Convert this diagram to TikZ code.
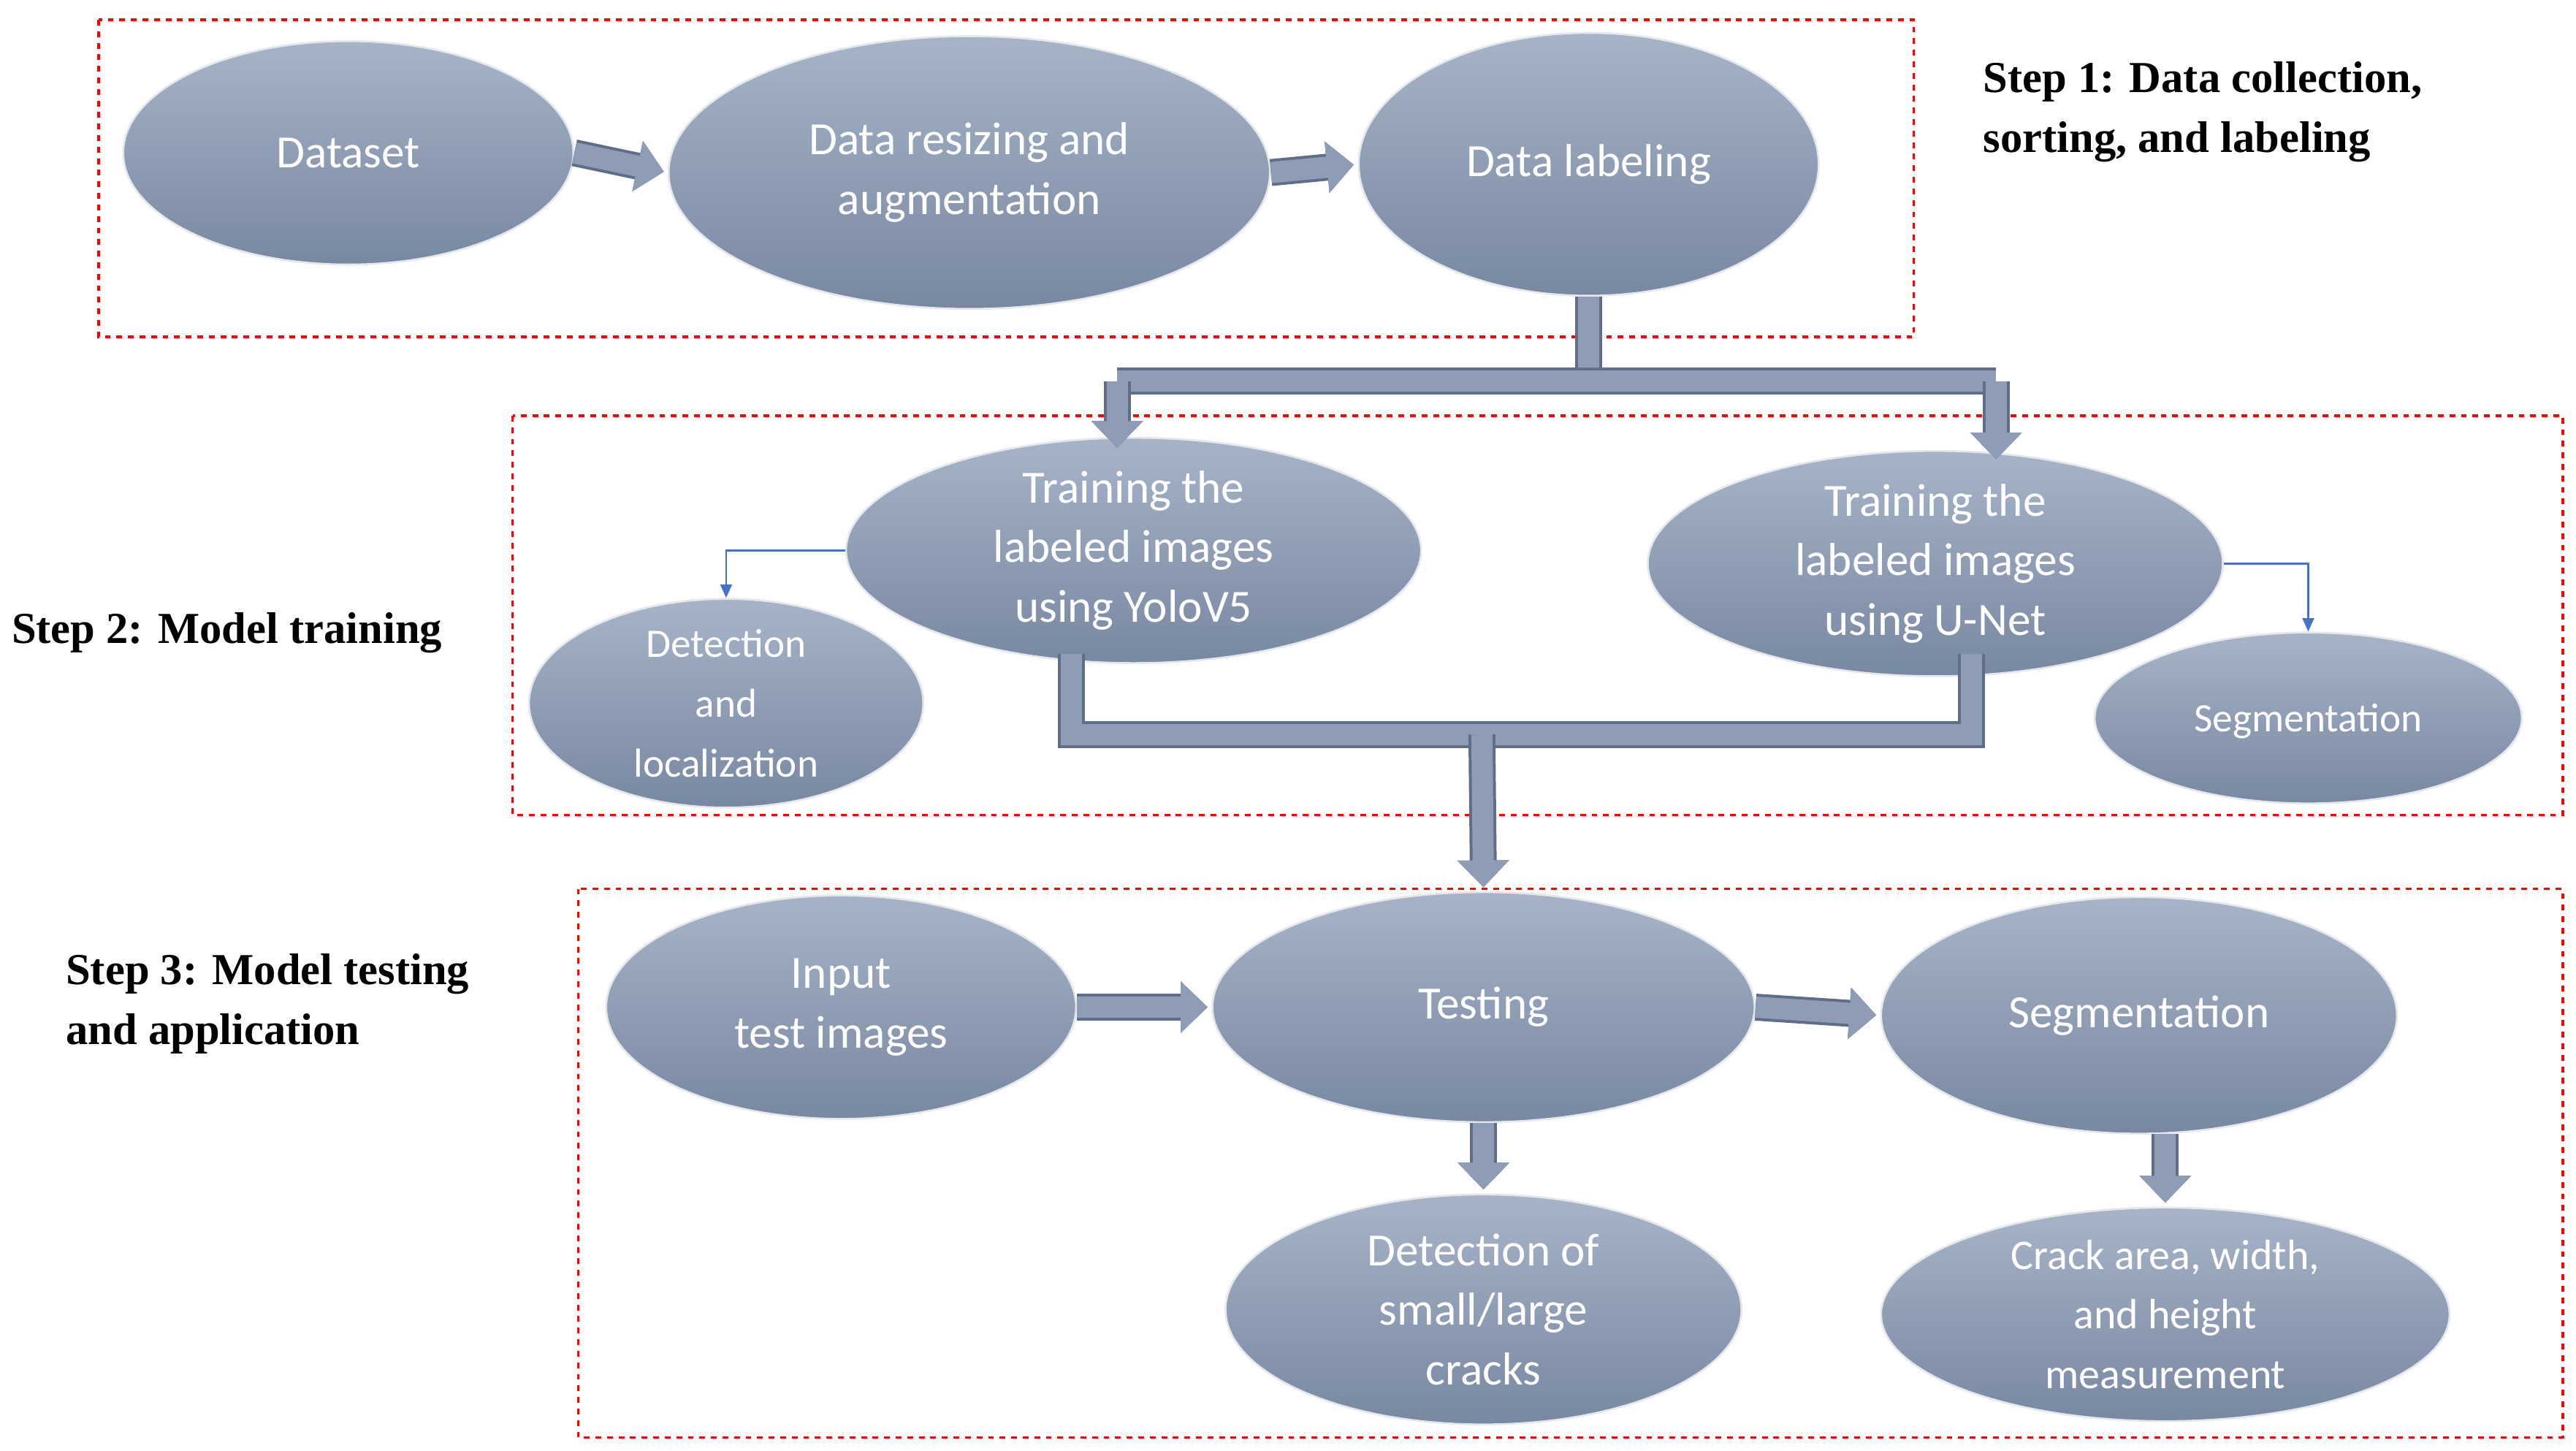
\documentclass[tikz,border=0pt]{standalone}
\usepackage{fontspec}
\setmainfont{Carlito}
\newfontfamily\stepfont{Liberation Serif}
\usetikzlibrary{shapes.geometric,arrows.meta}
\definecolor{elltop}{HTML}{A7B4C8}
\definecolor{ellbot}{HTML}{7888A1}
\definecolor{arrfill}{HTML}{8E9DB5}
\definecolor{arredge}{HTML}{5E6E88}
\definecolor{thinblue}{HTML}{4472C4}
\begin{document}
\begin{tikzpicture}[x=0.03cm,y=-0.03cm,
  ell/.style={ellipse,inner sep=0pt,top color=elltop,bottom color=ellbot,draw=white!80!ellbot,line width=1pt,
    text=white,align=center,font=\fontsize{24}{31}\selectfont},
  box/.style={draw=red,dashed,line width=1.2pt},
  steplbl/.style={anchor=west,align=left,font=\stepfont\bfseries\fontsize{23}{31}\selectfont},
  blk/.style={line width=11pt,draw=arrfill,preaction={draw=arredge,line width=14pt}},
  blka/.style={blk,-{Triangle[width=26pt,length=14pt]},shorten >=2pt},
  thin/.style={draw=thinblue,line width=1pt,-{Triangle[width=6pt,length=7pt]}}]
\useasboundingbox (0,0) rectangle (1568,883);
\fill[white] (0,0) rectangle (1568,883);
% boxes
\draw[box] (60,12) rectangle (1165,205);
\draw[box] (312,253) rectangle (1560,496);
\draw[box] (352,541) rectangle (1560,875);
% step labels
\node[steplbl] (s1) at (1203,68) {Step 1: Data collection,\\sorting, and labeling};
\node[steplbl] (s2) at (3,385) {Step 2: Model training};
\node[steplbl] (s3) at (36,611) {Step 3: Model testing\\and application};
% ellipses
\node[ell,minimum width=8.22cm,minimum height=4.08cm] (ds) at (212,93) {Dataset};
\node[ell,minimum width=10.98cm,minimum height=4.98cm] (dr) at (590,105) {Data resizing and\\augmentation};
\node[ell,minimum width=8.4cm,minimum height=4.8cm] (dl) at (967,100) {Data labeling};
\node[ell,minimum width=10.5cm,minimum height=3.6cm] (ty) at (690,335) {Training the\\labeled images\\using YoloV5};
\node[ell,minimum width=7.2cm,minimum height=3.6cm] (dd) at (442,428) {\fontsize{21}{29}\selectfont Detection\\\fontsize{21}{29}\selectfont and\\\fontsize{21}{29}\selectfont localization};
\node[ell,minimum width=10.5cm,minimum height=3.42cm] (tu) at (1178,343) {Training the\\labeled images\\using U-Net};
\node[ell,minimum width=7.8cm,minimum height=3.12cm] (sg2) at (1405,437) {\raisebox{-18pt}{\fontsize{21}{29}\selectfont Segmentation}};
\node[ell,minimum width=8.58cm,minimum height=4.08cm] (in) at (512,613) {Input\\test images};
\node[ell,minimum width=9.9cm,minimum height=4.2cm] (te) at (903,613) {Testing};
\node[ell,minimum width=9.42cm,minimum height=4.32cm] (sg3) at (1302,618) {Segmentation};
\node[ell,minimum width=9.42cm,minimum height=4.2cm] (dc) at (903,797) {Detection of\\small/large\\cracks};
\node[ell,minimum width=10.38cm,minimum height=3.9cm] (cr) at (1318,800) {\fontsize{22}{29}\selectfont Crack area, width,\\\fontsize{22}{29}\selectfont and height\\\fontsize{22}{29}\selectfont measurement};
% block arrows step 1
\draw[blka] (ds.east) -- (dr.west);
\draw[blka] (dr.east) -- (dl.west);
% bus 1
\coordinate (b1l) at (680,232);
\coordinate (b1r) at (1215,232);
\coordinate (b1m) at (967,232);
\coordinate (t1) at (680,275);
\coordinate (t2) at (1215,282);
\draw[blk] (dl.south) -- (b1m);
\draw[blk] (b1l) -- (b1r);
\draw[blka] (b1l) -- (t1);
\draw[blka] (b1r) -- (t2);
% bus 2
\coordinate (y1) at (652,398);
\coordinate (u1) at (1200,398);
\coordinate (y2) at (652,447);
\coordinate (u2) at (1200,447);
\coordinate (m2) at (902,447);
\draw[blk] (y1) -- (y2) -- (u2) -- (u1);
\draw[blka] (m2) -- (te.north);
% step 3 arrows
\draw[blka] (in.east) -- (te.west);
\draw[blka] (te.east) -- (sg3.west);
\draw[blka] (te.south) -- (dc.north);
\coordinate (sgb) at (1318,690);
\draw[blka] (sgb) -- (cr.north);
% thin connectors
\draw[thin] (ty.west) -| (dd.north);
\draw[thin] (tu.east) -| (sg2.north);
\end{tikzpicture}
\end{document}
